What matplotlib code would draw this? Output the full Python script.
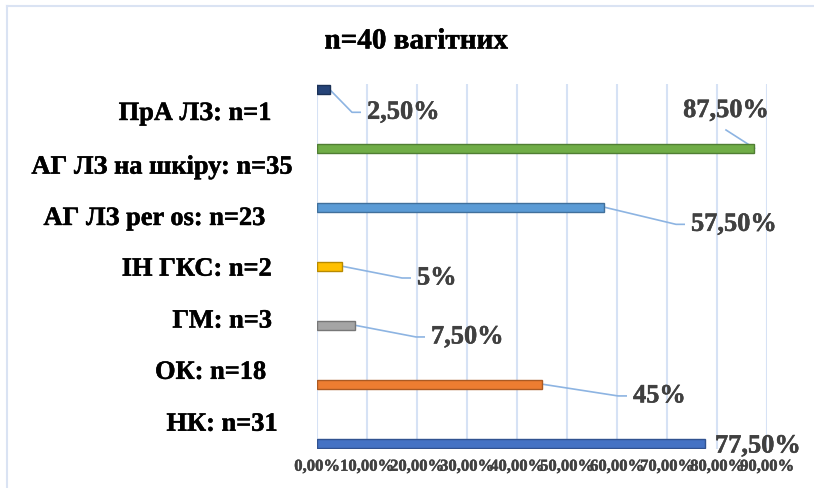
import matplotlib.pyplot as plt
import matplotlib.patheffects as pe
from matplotlib.lines import Line2D

plt.rcParams["font.family"] = ["Liberation Serif", "DejaVu Serif"]
plt.rcParams["font.weight"] = "bold"

# data, top to bottom
categories = ["ПрА ЛЗ: n=1", "АГ ЛЗ на шкіру: n=35", "АГ ЛЗ per os: n=23",
              "ІН ГКС: n=2", "ГМ: n=3", "ОК: n=18", "НК: n=31"]
shares = [0.025, 0.875, 0.575, 0.05, 0.075, 0.45, 0.775]
value_labels = ["2,50%", "87,50%", "57,50%", "5%", "7,50%", "45%", "77,50%"]
colors = ["#264478", "#70AD47", "#5B9BD5", "#FFC000", "#A5A5A5", "#ED7D31", "#4472C4"]
edges = ["#1b3156", "#507e33", "#41709b", "#b88a00", "#777777", "#ab5a23", "#315290"]

# layout of the category texts (right edge in axes fraction, y in data units)
cat_x = [-0.101, -0.054, -0.115, -0.1, -0.1, -0.113, -0.087]
cat_y = [0.41, 1.32, 2.19, 3.05, 3.93, 4.80, 5.68]

# layout of value labels: (x, y, ha) in data units, and leader style
val_pos = [(0.10, 0.39, "left"), (0.818, 0.36, "center"), (0.748, 2.29, "left"),
           (0.20, 3.20, "left"), (0.228, 4.20, "left"), (0.632, 5.20, "left"),
           (0.796, 6.05, "left")]
leaders = ["side", "below", "side", "side", "side", "side", None]

heavy = [pe.withStroke(linewidth=0.35, foreground="#404040")]
heavy_k = [pe.withStroke(linewidth=0.35, foreground="black")]

fig = plt.figure(figsize=(8.14, 4.89), dpi=100)
ax = fig.add_axes([317 / 814, 39 / 489, 450 / 814, 365 / 489])

ypos = list(range(len(categories)))
ax.barh(ypos, shares, height=0.15, color=colors, edgecolor=edges, linewidth=1.0, zorder=3)

ax.set_xlim(0, 0.9)
ax.set_ylim(6.1, -0.09)
ax.set_xticks([i / 10 for i in range(10)])
ax.set_xticklabels([f"{i * 10},00%" for i in range(10)], fontsize=12, color="#404040",
                   fontweight="bold")
for t in ax.get_xticklabels():
    t.set_path_effects([pe.withStroke(linewidth=0.3, foreground="#404040")])
ax.tick_params(axis="x", length=0, pad=7)
ax.set_yticks([])
ax.grid(axis="x", color="#d6e2f5", linewidth=1.5, zorder=0)
for s in ax.spines.values():
    s.set_visible(False)

for name, cx, cy in zip(categories, cat_x, cat_y):
    ax.text(cx, cy, name, transform=ax.get_yaxis_transform(), ha="right", va="center",
            fontsize=19, fontweight="bold", color="black", path_effects=heavy_k)

leader_color = "#8db4e2"
for i, (val, lab, (tx, ty, ha), lead) in enumerate(zip(shares, value_labels, val_pos, leaders)):
    ax.text(tx, ty, lab, ha=ha, va="center", fontsize=19, fontweight="bold",
            color="#404040", path_effects=heavy, zorder=4)
    if lead == "side":
        ax.plot([val, tx - 0.03, tx - 0.012], [i, ty, ty], color=leader_color,
                lw=1.2, zorder=2, solid_capstyle="butt")
    elif lead == "below":
        ax.plot([val, tx], [i, ty + 0.33], color=leader_color, lw=1.2, zorder=2)

fig.text(416 / 814, 1 - 42 / 489, "n=40 вагітних", ha="center", va="center",
         fontsize=21, fontweight="bold", color="black", path_effects=heavy_k)

# light chart frame
fig.add_artist(Line2D([7 / 814, 7 / 814], [0, 1 - 7 / 489], color="#dae3f3", lw=1.5))
fig.add_artist(Line2D([7 / 814, 1], [1 - 7 / 489, 1 - 7 / 489], color="#dae3f3", lw=1.5))

fig.savefig("out.png", dpi=100)
